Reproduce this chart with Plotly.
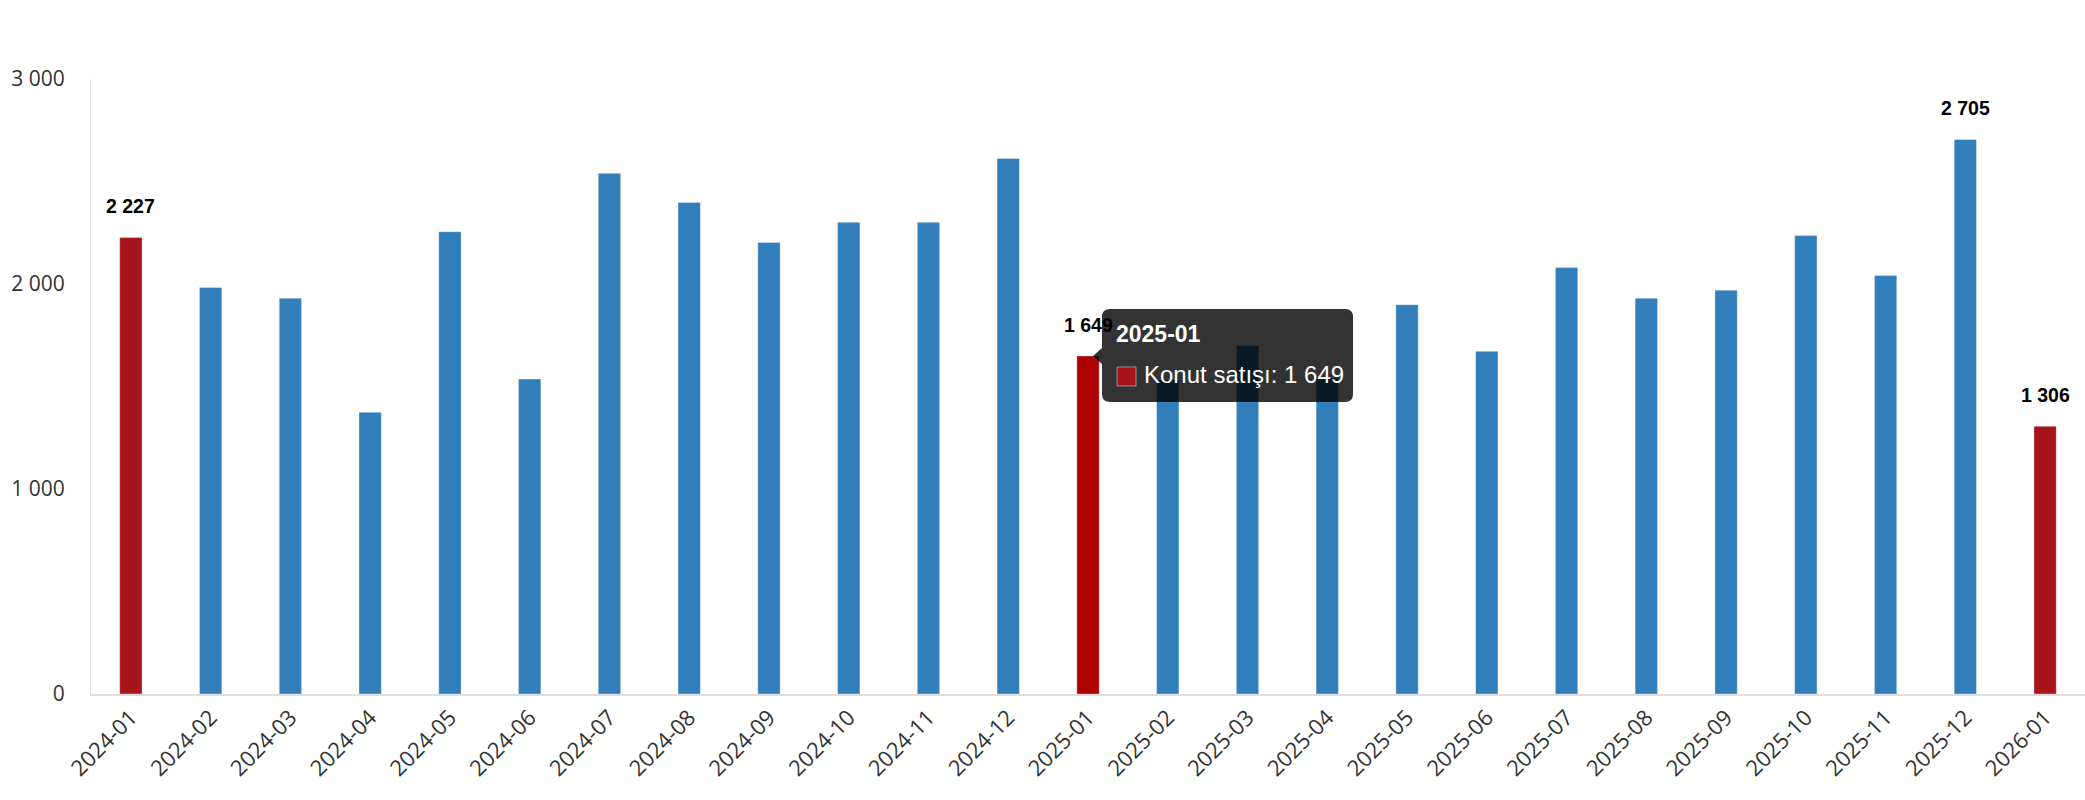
import plotly.graph_objects as go

months = ["2024-01", "2024-02", "2024-03", "2024-04", "2024-05", "2024-06",
          "2024-07", "2024-08", "2024-09", "2024-10", "2024-11", "2024-12",
          "2025-01", "2025-02", "2025-03", "2025-04", "2025-05", "2025-06",
          "2025-07", "2025-08", "2025-09", "2025-10", "2025-11", "2025-12",
          "2026-01"]
sales = [2227, 1983, 1931, 1374, 2255, 1536,
         2540, 2398, 2203, 2301, 2301, 2612,
         1649, 1532, 1699, 1541, 1899, 1672,
         2080, 1931, 1970, 2236, 2041, 2705,
         1306]
labelled_months = ["2024-01", "2025-01", "2025-12", "2026-01"]
hover_month = "2025-01"
series_name = "Konut satışı"
y_ticks = [0, 1000, 2000, 3000]

BLUE = "#317ebb"
RED = "#a8141c"
RED_HOVER = "#ad0000"


def fmt(v):
    return f"{v:,}".replace(",", " ")


colors = []
for m in months:
    if m == hover_month:
        colors.append(RED_HOVER)
    elif m.endswith("-01"):
        colors.append(RED)
    else:
        colors.append(BLUE)

fig = go.Figure()
fig.add_trace(go.Bar(
    x=months, y=sales,
    marker=dict(color=colors, line=dict(color="rgba(255,255,255,0.35)", width=1)),
    hoverinfo="skip",
    name=series_name,
))

annotations = []
for m, v in zip(months, sales):
    if m in labelled_months:
        annotations.append(dict(
            x=m, y=v, xref="x", yref="y", text=f"<b>{fmt(v)}</b>", showarrow=False,
            yanchor="middle", yshift=31,
            font=dict(family="Liberation Sans", size=19.5, color="#000000"),
        ))

hv = sales[months.index(hover_month)]
L, R, T, B, r = 14, 265, 47, -46, 8
path = (f"M {L + r},{T} L {R - r},{T} Q {R},{T} {R},{T - r} "
        f"L {R},{B + r} Q {R},{B} {R - r},{B} L {L + r},{B} Q {L},{B} {L},{B + r} "
        f"L {L},-8 L 5,0 L {L},8 L {L},{T - r} Q {L},{T} {L + r},{T} Z")
shapes = [
    dict(type="path", xref="x", yref="y", xsizemode="pixel", ysizemode="pixel",
         xanchor=hover_month, yanchor=hv, path=path,
         fillcolor="rgba(0,0,0,0.8)", line=dict(width=0), layer="above"),
    dict(type="rect", xref="x", yref="y", xsizemode="pixel", ysizemode="pixel",
         xanchor=hover_month, yanchor=hv, x0=29, x1=48, y0=-11, y1=-30,
         fillcolor=RED, line=dict(color="rgba(255,255,255,0.45)", width=1), layer="above"),
]
annotations.append(dict(
    x=hover_month, y=hv, xref="x", yref="y", text=f"<b>{hover_month}</b>",
    showarrow=False, xanchor="left", yanchor="middle", xshift=26, yshift=22,
    font=dict(family="Liberation Sans", size=23, color="#ffffff"),
))
annotations.append(dict(
    x=hover_month, y=hv, xref="x", yref="y", text=f"{series_name}: {fmt(hv)}",
    showarrow=False, xanchor="left", yanchor="middle", xshift=54, yshift=-19,
    font=dict(family="Liberation Sans", size=24, color="#ffffff"),
))

fig.update_layout(
    width=2085, height=800,
    margin=dict(l=91, r=0, t=79, b=106),
    paper_bgcolor="white", plot_bgcolor="white",
    showlegend=False,
    bargap=0.72,
    annotations=annotations,
    shapes=shapes,
    xaxis=dict(
        type="category", tickangle=-45, showgrid=False, zeroline=False,
        showline=True, linecolor="#dedede", linewidth=2, ticks="",
        tickfont=dict(family="Open Sans", size=22, color="#333333"),
    ),
    yaxis=dict(
        range=[0, 3000], tickvals=y_ticks, ticktext=[fmt(t) for t in y_ticks],
        showgrid=False, zeroline=False, showline=True, linecolor="#e6e6e6",
        linewidth=1, ticks="", ticklabelstandoff=21,
        tickfont=dict(family="Open Sans", size=21, color="#333333"),
    ),
)

fig.write_html("out.html")
